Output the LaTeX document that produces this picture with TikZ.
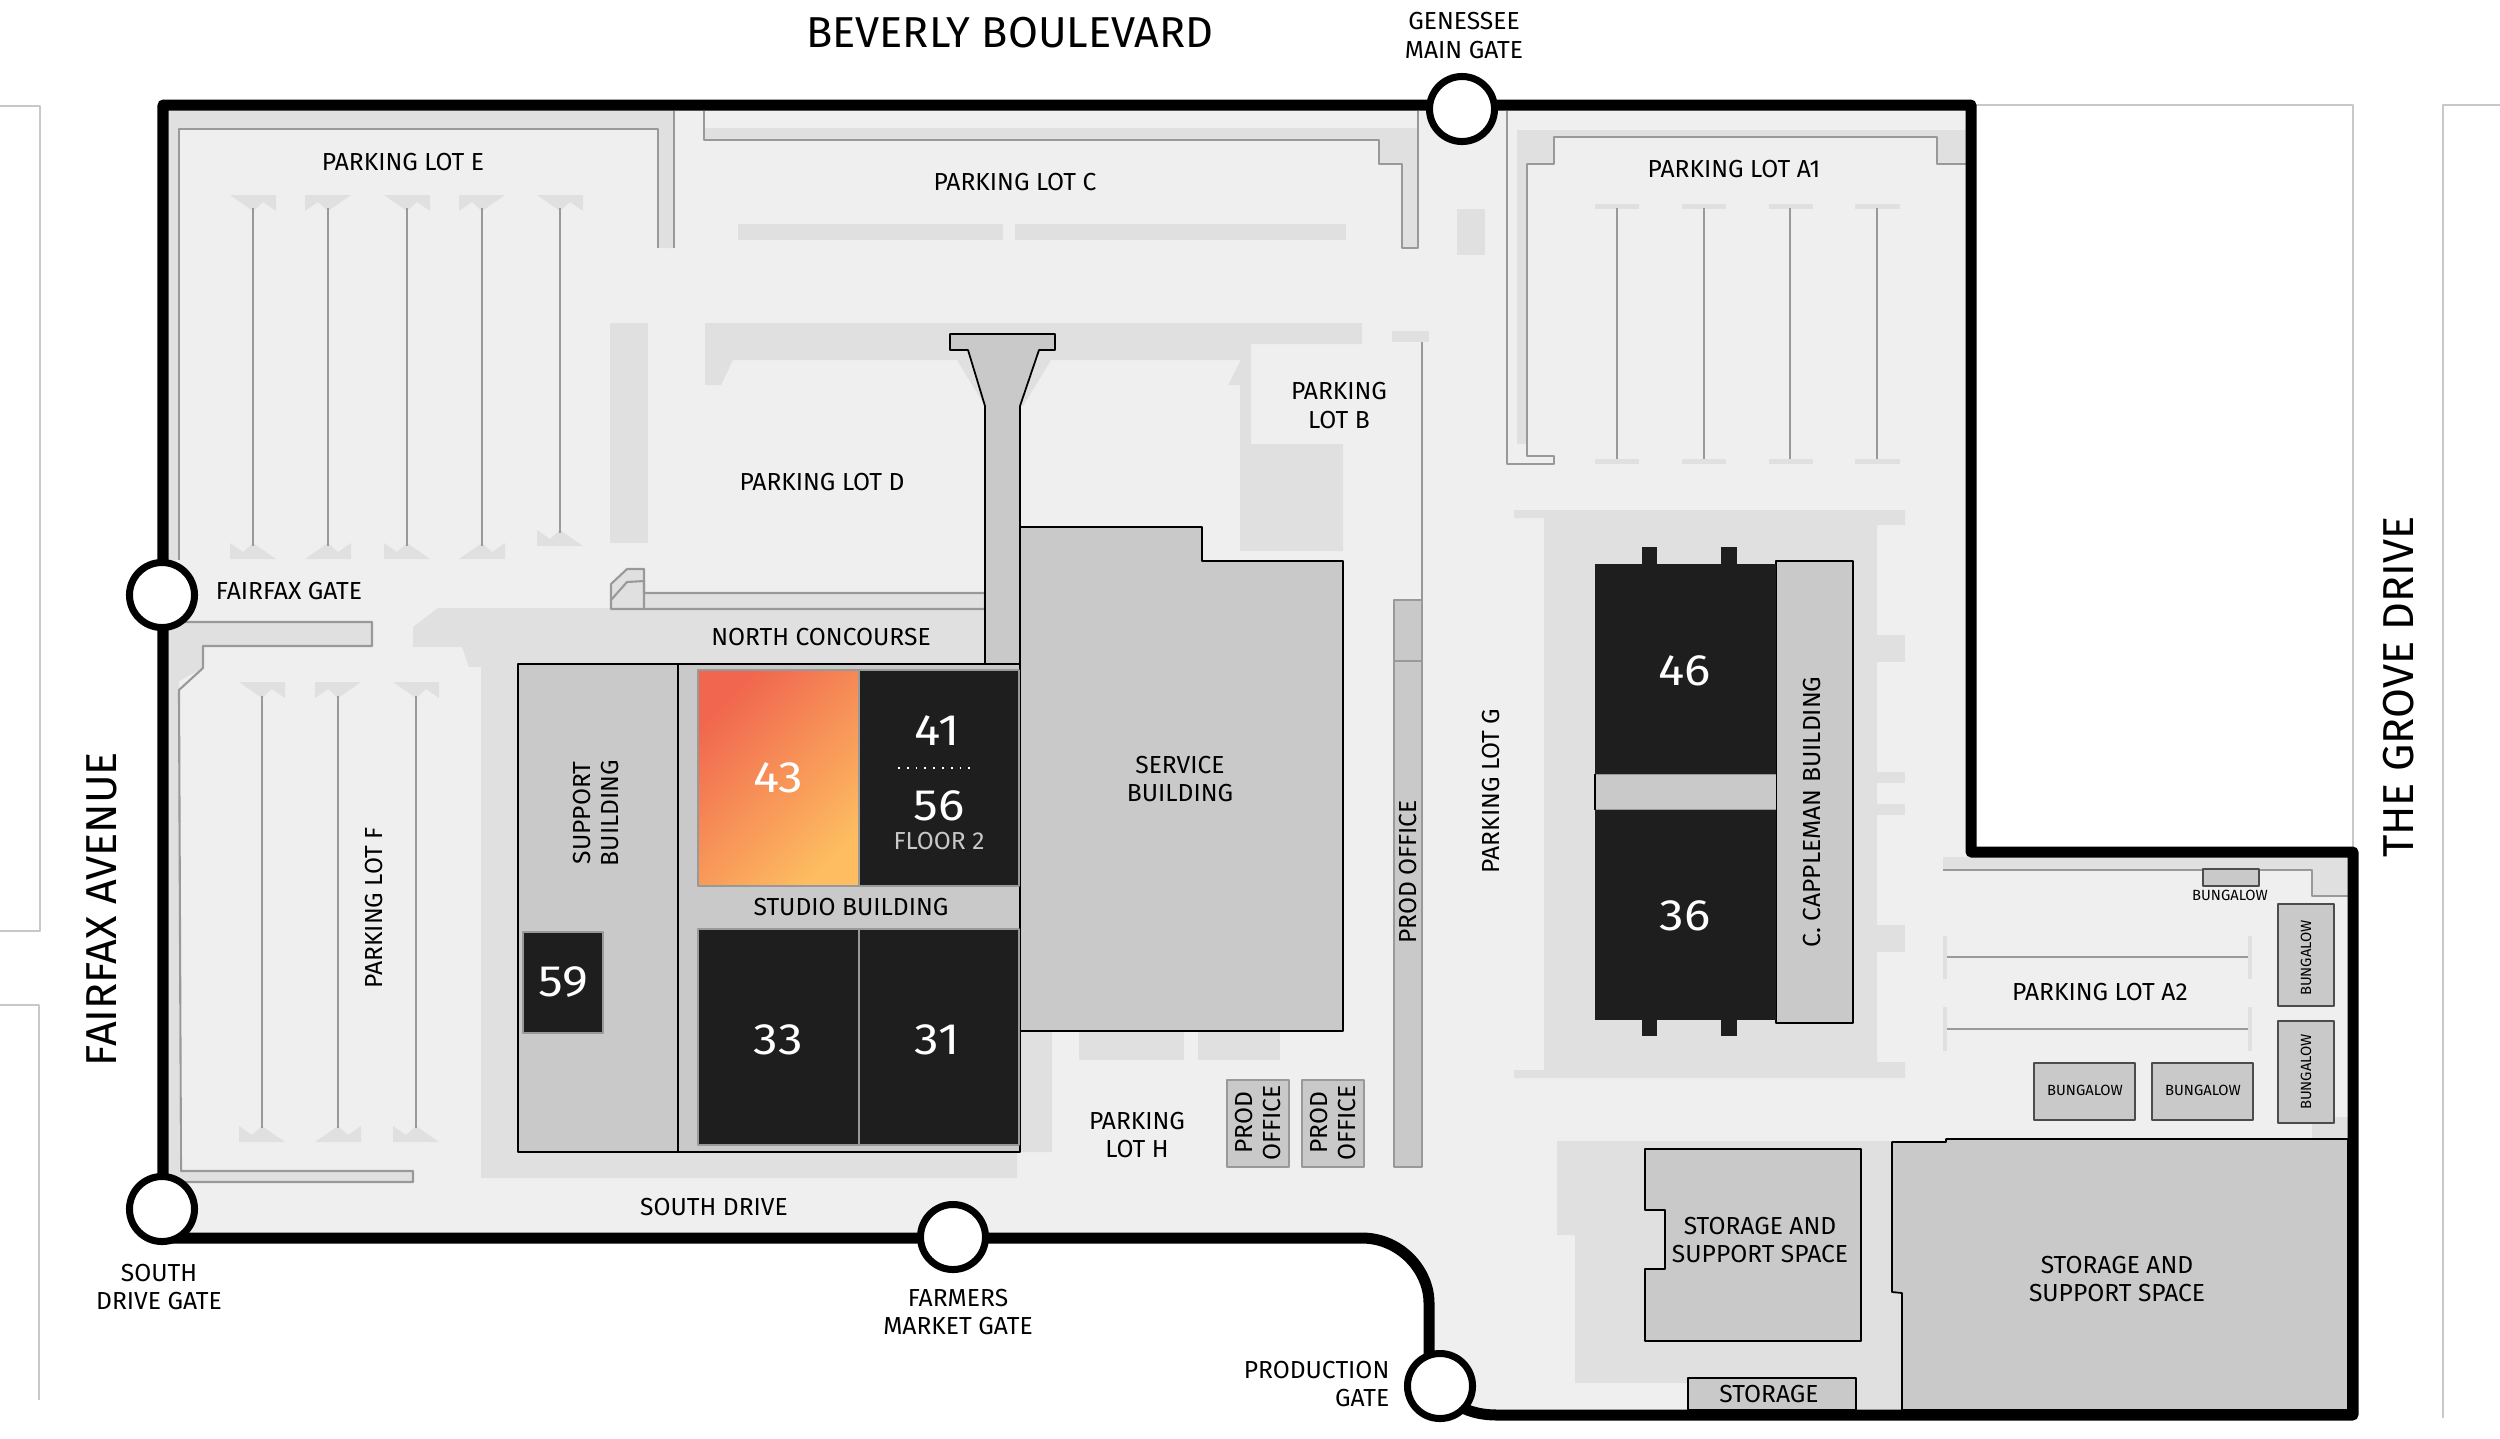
\documentclass[tikz,border=0pt]{standalone}
\usepackage{fontspec}
\setmainfont[FakeStretch=1.0]{Fira Sans}
\newfontfamily\numfont[FakeStretch=1.12]{Fira Sans}
\usetikzlibrary{arrows}
\definecolor{sitegray}{HTML}{EFEFEF}
\definecolor{zonegray}{HTML}{E0E0E0}
\definecolor{bldggray}{HTML}{C9C9C9}
\definecolor{linegray}{HTML}{999999}
\definecolor{streetgray}{HTML}{C8C8C8}
\definecolor{stagedark}{HTML}{1E1E1E}
\definecolor{hotstart}{HTML}{F1664F}
\definecolor{hotend}{HTML}{FDBD60}
\newcommand{\stallcap}[4]{\fill [zonegray] ({#1-23*(#3)},#2) -- ({#1+23*(#3)},#2) -- ({#1+23*(#3)},{#2+16*(#4)}) -- ({#1+10*(#3)},{#2+7*(#4)}) -- (#1,{#2+16*(#4)}) -- cycle;}

\begin{document}
\begin{tikzpicture}[line cap=butt,line join=round,x=0.01cm,y=-0.01cm,
  zone/.style={fill=zonegray},
  edge/.style={draw=linegray,line width=0.6pt},
  thinline/.style={draw=linegray,line width=0.35pt},
  bldg/.style={fill=bldggray,draw=black,line width=0.5pt},
  softbldg/.style={fill=bldggray,draw=linegray,line width=0.6pt},
  stage/.style={fill=stagedark,draw=linegray,line width=0.5pt},
  street/.style={draw=streetgray,line width=0.6pt},
  lbl/.style={inner sep=0pt,align=center,font=\fontsize{7}{8}\selectfont},
  road/.style={inner sep=0pt,font=\fontsize{12.3}{14}\selectfont},
  tiny/.style={inner sep=0pt,align=center,font=\fontsize{4.2}{5}\selectfont},
  num/.style={inner sep=0pt,text=white,font=\numfont\fontsize{12.5}{14}\selectfont},
  gate/.style={circle,draw=black,fill=white,line width=2pt,minimum size=0.65cm,inner sep=0pt}]
\useasboundingbox (0,0) rectangle (2500,1438);
% streets
\draw [street] (0,106) -- (40,106) -- (40,931) -- (0,931);
\draw [street] (0,1005) -- (39,1005) -- (39,1400);
\draw [street] (1975,105) -- (2353,105) -- (2353,850);
\draw [street] (2500,105) -- (2443,105) -- (2443,1418);
% site
\fill [sitegray] (163,105) -- (1971,105) -- (1971,852) -- (2353,852) -- (2353,1415) -- (1497,1415) .. controls (1470,1415) and (1450,1405) .. (1440,1386) -- (1429,1303) .. controls (1429,1270) and (1400,1238) .. (1362,1238) -- (163,1238) -- cycle;
% lot e
\path [zone] (169,111) -- (674,111) -- (674,248) -- (658,248) -- (658,129) -- (179,129) -- (179,560) -- (169,560) -- cycle;
\draw [edge] (179,560) -- (179,129) -- (658,129) -- (658,248);
\draw [edge] (674,111) -- (674,248);
\stallcap{253}{195}{1}{1}
\stallcap{328}{195}{-1}{1}
\stallcap{407}{195}{1}{1}
\stallcap{482}{195}{-1}{1}
\stallcap{560}{195}{1}{1}
\stallcap{253}{559}{-1}{-1}
\stallcap{328}{559}{1}{-1}
\stallcap{407}{559}{-1}{-1}
\stallcap{482}{559}{1}{-1}
\stallcap{560}{546}{-1}{-1}
\draw [thinline] (253,208) -- (253,546);
\draw [thinline] (328,208) -- (328,546);
\draw [thinline] (407,208) -- (407,546);
\draw [thinline] (482,208) -- (482,546);
\draw [thinline] (560,208) -- (560,533);
% lot f
\path [zone] (169,622) -- (372,622) -- (372,646) -- (203,646) -- (203,668) -- (179,681) -- (179,1171) -- (413,1171) -- (413,1182) -- (169,1182) -- cycle;
\draw [edge] (169,622) -- (372,622) -- (372,646) -- (203,646) -- (203,668) -- (179,690) -- (181,1171) -- (413,1171) -- (413,1182) -- (175,1182);
\stallcap{262}{682}{1}{1}
\stallcap{338}{682}{-1}{1}
\stallcap{416}{682}{1}{1}
\stallcap{262}{1142}{-1}{-1}
\stallcap{338}{1142}{1}{-1}
\stallcap{416}{1142}{-1}{-1}
\draw [thinline] (262,696) -- (262,1128);
\draw [thinline] (338,696) -- (338,1128);
\draw [thinline] (416,696) -- (416,1128);
% lot c
\path [zone] (704,128) -- (1418,128) -- (1418,248) -- (1402,248) -- (1402,164) -- (1379,164) -- (1379,140) -- (704,140) -- cycle;
\draw [edge] (704,111) -- (704,140) -- (1379,140) -- (1379,164) -- (1402,164) -- (1402,248) -- (1418,248) -- (1418,111);
\fill [zonegray] (738,224) rectangle (1003,240);
\fill [zonegray] (1015,224) rectangle (1346,240);
\fill [zonegray] (1457,209) rectangle (1485,255);
% lot d
\fill [zonegray] (610,323) rectangle (648,543);
\path [zone] (705,323) -- (1362,323) -- (1362,344) -- (1251,344) -- (1251,444) -- (1343,444) -- (1343,551) -- (1240,551) -- (1240,385) -- (1228,385) -- (1241,360) -- (1051,360) -- (1023,406) -- (985,406) -- (957,360) -- (733,360) -- (721,385) -- (705,385) -- cycle;
% north concourse
\path [zone] (438,608) -- (985,608) -- (985,670) -- (1052,1031) -- (1052,1152) -- (1017,1152) -- (1017,1178) -- (481,1178) -- (481,667) -- (469,667) -- (462,647) -- (413,647) -- (413,627) -- cycle;
\path [zone,edge] (611,609) -- (611,584) -- (627,569) -- (644,569) -- (644,593) -- (985,593) -- (985,609) -- cycle;
\draw [edge] (611,600) -- (627,582) -- (644,581) -- (644,609);
% lot a1
\path [zone] (1517,130) -- (1966,130) -- (1966,164) -- (1937,164) -- (1937,137) -- (1554,137) -- (1554,164) -- (1527,164) -- (1527,444) -- (1517,444) -- cycle;
\draw [edge] (1507,111) -- (1507,464) -- (1554,464) -- (1554,456) -- (1527,456) -- (1527,164) -- (1554,164) -- (1554,137) -- (1937,137) -- (1937,164) -- (1966,164);
\fill [zonegray] (1595,204) rectangle (1639,209);
\fill [zonegray] (1682,204) rectangle (1726,209);
\fill [zonegray] (1769,204) rectangle (1813,209);
\fill [zonegray] (1855,204) rectangle (1900,209);
\fill [zonegray] (1595,459) rectangle (1639,464);
\fill [zonegray] (1682,459) rectangle (1726,464);
\fill [zonegray] (1769,459) rectangle (1813,464);
\fill [zonegray] (1855,459) rectangle (1900,464);
\draw [thinline] (1617,208) -- (1617,459);
\draw [thinline] (1704,208) -- (1704,459);
\draw [thinline] (1790,208) -- (1790,459);
\draw [thinline] (1877,208) -- (1877,459);
% stages 46 and 36
\path [zone] (1514,510) -- (1905,510) -- (1905,525) -- (1877,525) -- (1877,1062) -- (1905,1062) -- (1905,1078) -- (1514,1078) -- (1514,1070) -- (1544,1070) -- (1544,518) -- (1514,518) -- cycle;
\fill [zonegray] (1877,635) rectangle (1905,662);
\fill [zonegray] (1877,772) rectangle (1905,783);
\fill [zonegray] (1877,804) rectangle (1905,815);
\fill [zonegray] (1877,925) rectangle (1905,952);
\path [bldg] (1776,561) rectangle (1853,1023);
\fill [bldggray] (1595,774) rectangle (1776,810);
\draw [edge] (1595,774) -- (1776,774);
\draw [edge] (1595,810) -- (1776,810);
\path [draw=black,line width=0.3pt] (1595,774) -- (1595,810);
\fill [stagedark] (1642,547) rectangle (1657,570);
\fill [stagedark] (1721,547) rectangle (1737,570);
\fill [stagedark] (1642,1015) rectangle (1657,1036);
\fill [stagedark] (1721,1015) rectangle (1737,1036);
\fill [stagedark] (1595,564) rectangle (1776,774);
\fill [stagedark] (1595,810) rectangle (1776,1020);
% lot b and side strip
\fill [zonegray] (1392,331) rectangle (1429,342);
\draw [thinline] (1422,342) -- (1422,600);
\path [softbldg] (1394,600) rectangle (1422,1167);
\draw [edge] (1394,661) -- (1422,661);
% service building
\fill [zonegray] (1079,1032) rectangle (1184,1060);
\fill [zonegray] (1198,1032) rectangle (1280,1060);
\path [bldg] (1020,527) -- (1202,527) -- (1202,561) -- (1343,561) -- (1343,1031) -- (1020,1031) -- cycle;
% studio building
\path [bldg] (950,334) -- (1055,334) -- (1055,350) -- (1039,350) -- (1020,406) -- (1020,664) -- (985,664) -- (985,406) -- (968,350) -- (950,350) -- cycle;
\path [bldg] (518,664) rectangle (1020,1152);
\draw [draw=black,line width=0.5pt] (678,664) -- (678,1152);
\shade [top color=hotstart,bottom color=hotend,shading angle=45] (698,670) rectangle (859,886);
\draw [edge] (698,670) rectangle (859,886);
\path [stage] (859,670) rectangle (1019,886);
\path [stage] (698,929) rectangle (859,1145);
\path [stage] (859,929) rectangle (1019,1145);
\path [stage] (523,932) rectangle (603,1033);
\draw [draw=white,line width=0.5pt,dotted] (898,768) -- (974,768);
% prod offices
\path [softbldg] (1227,1080) rectangle (1289,1167);
\path [softbldg] (1302,1080) rectangle (1364,1167);
% lot a2
\path [zone] (1943,857) -- (2348,857) -- (2348,896) -- (2312,896) -- (2312,870) -- (1943,870) -- cycle;
\draw [edge] (1943,870) -- (2312,870) -- (2312,896) -- (2348,896);
\fill [zonegray] (2312,1117) rectangle (2348,1139);
\fill [zonegray] (1943,936) rectangle (1947,979);
\fill [zonegray] (2248,936) rectangle (2252,979);
\fill [zonegray] (1943,1007) rectangle (1947,1051);
\fill [zonegray] (2248,1007) rectangle (2252,1051);
\draw [edge] (1947,957) -- (2248,957);
\draw [edge] (1947,1029) -- (2248,1029);
\path [softbldg,draw=black!70] (2203,869) rectangle (2259,886);
\path [softbldg,draw=black!70] (2278,904) rectangle (2334,1006);
\path [softbldg,draw=black!70] (2278,1021) rectangle (2334,1123);
\path [softbldg,draw=black!70] (2034,1063) rectangle (2135,1120);
\path [softbldg,draw=black!70] (2152,1063) rectangle (2253,1120);
% storage
\path [zone] (1557,1141) -- (1892,1141) -- (1892,1292) -- (1902,1293) -- (1902,1410) -- (1688,1410) -- (1688,1383) -- (1575,1383) -- (1575,1235) -- (1557,1235) -- cycle;
\path [bldg] (1892,1142) -- (1946,1142) -- (1946,1139) -- (2348,1139) -- (2348,1410) -- (1902,1410) -- (1902,1293) -- (1892,1292) -- cycle;
\path [bldg] (1645,1149) -- (1861,1149) -- (1861,1341) -- (1645,1341) -- (1645,1269) -- (1665,1269) -- (1665,1210) -- (1645,1210) -- cycle;
\path [bldg] (1688,1378) rectangle (1856,1410);
% boundary
\draw [draw=black,line width=0.11cm] (163,105) -- (1971,105) -- (1971,852) -- (2353,852) -- (2353,1415) -- (1497,1415) .. controls (1470,1415) and (1450,1405) .. (1440,1386) -- (1429,1386) -- (1429,1303) .. controls (1429,1270) and (1400,1238) .. (1362,1238) -- (163,1238) -- cycle;
\node [gate] (genessee) at (1462,109) {};
\node [gate] (fairfax) at (162,595) {};
\node [gate] (southdrive) at (162,1209) {};
\node [gate] (farmers) at (953,1237) {};
\node [gate] (production) at (1440,1386) {};
% roads
\node [road] (beverly) at (1010,33) {BEVERLY BOULEVARD};
\node [road,rotate=90] (fairfaxave) at (102,909) {FAIRFAX AVENUE};
\node [road,rotate=90] (grove) at (2399,687) {THE GROVE DRIVE};
% labels
\node [lbl] (lblgenessee) at (1464,35.5) {GENESSEE\\MAIN GATE};
\node [lbl] (lote) at (403,162) {PARKING LOT E};
\node [lbl] (lotc) at (1015,182) {PARKING LOT C};
\node [lbl] (lotd) at (822,482) {PARKING LOT D};
\node [lbl] (lblfairfax) at (289,591) {FAIRFAX GATE};
\node [lbl] (concourse) at (821,637) {NORTH CONCOURSE};
\node [lbl] (lota) at (1734,169) {PARKING LOT A1};
\node [lbl] (lotb) at (1339,405.5) {PARKING\\LOT B};
\node [lbl] (studio) at (851,907) {STUDIO BUILDING};
\node [lbl] (service) at (1180,779) {SERVICE\\BUILDING};
\node [lbl,rotate=90] (support) at (596,813) {SUPPORT\\BUILDING};
\node [lbl,rotate=90] (lotf) at (374,908) {PARKING LOT F};
\node [lbl] (lblsouth) at (714,1207) {SOUTH DRIVE};
\node [lbl] (lblsouthgate) at (159,1287) {SOUTH\\DRIVE GATE};
\node [lbl] (lblfarmers) at (958,1312) {FARMERS\\MARKET GATE};
\node [lbl] (loth) at (1137,1135) {PARKING\\LOT H};
\node [lbl,rotate=90] (prodone) at (1258,1123) {PROD\\OFFICE};
\node [lbl,rotate=90] (prodtwo) at (1333,1123) {PROD\\OFFICE};
\node [lbl,rotate=90] (prodbar) at (1408,872) {PROD OFFICE};
\node [lbl,rotate=90] (lotg) at (1491,791) {PARKING LOT G};
\node [lbl,rotate=90] (cappleman) at (1812,812) {C. CAPPLEMAN BUILDING};
\node [lbl] (lotatwo) at (2100,992) {PARKING LOT A2};
\node [lbl] (storagemid) at (1760,1240) {STORAGE AND\\SUPPORT SPACE};
\node [lbl] (storagebig) at (2117,1279) {STORAGE AND\\SUPPORT SPACE};
\node [lbl] (storagesmall) at (1769,1394) {STORAGE};
\node [lbl,anchor=east,align=right] (lblproduction) at (1390,1384) {PRODUCTION\\GATE};
\node [tiny] (bungtop) at (2230,895) {BUNGALOW};
\node [tiny,rotate=90] (bungone) at (2306,958) {BUNGALOW};
\node [tiny,rotate=90] (bungtwo) at (2306,1072) {BUNGALOW};
\node [tiny] (bungthree) at (2085,1090) {BUNGALOW};
\node [tiny] (bungfour) at (2203,1090) {BUNGALOW};
% stage numbers
\node [num] (stage43) at (778,778) {43};
\node [num] (stage41) at (937,731) {41};
\node [num] (stage56) at (939,806) {56};
\node [inner sep=0pt,text=bldggray,font=\fontsize{7}{8}\selectfont] (floor) at (939,841) {FLOOR 2};
\node [num] (stage33) at (778,1040) {33};
\node [num] (stage31) at (937,1040) {31};
\node [num] (stage59) at (563,982) {59};
\node [num] (stage46) at (1685,671) {46};
\node [num] (stage36) at (1685,916) {36};
\end{tikzpicture}
\end{document}
